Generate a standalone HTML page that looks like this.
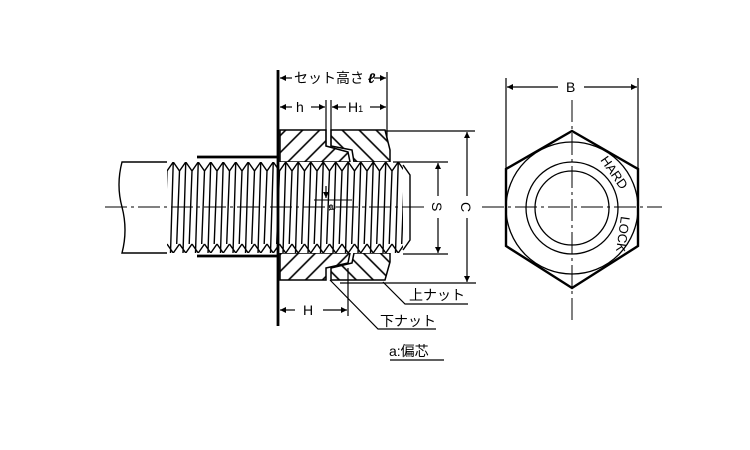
<!DOCTYPE html>
<html><head><meta charset="utf-8"><style>
html,body{margin:0;padding:0;background:#fff}
svg{display:block}
text{font-family:"Liberation Sans","Noto Sans CJK JP",sans-serif;fill:#000}
</style></head><body>
<svg width="750" height="450" viewBox="0 0 750 450" xmlns="http://www.w3.org/2000/svg">
<defs>
<pattern id="hA" patternUnits="userSpaceOnUse" width="12" height="12" patternTransform="rotate(45)">
<line x1="6" y1="-1" x2="6" y2="13" stroke="#000" stroke-width="1.6"/></pattern>
<pattern id="hB" patternUnits="userSpaceOnUse" width="12" height="12" patternTransform="rotate(-45)">
<line x1="6" y1="-1" x2="6" y2="13" stroke="#000" stroke-width="1.6"/></pattern>
<pattern id="th" patternUnits="userSpaceOnUse" x="167" y="162" width="12.5" height="91">
<path d="M0,9 L6.25,0 L12.5,9 M0,82 L6.25,91 L12.5,82 M6.25,0 L3.5,91 M12.5,9 L9.7,82 M0,9 L-2.8,82" stroke="#000" stroke-width="1.4" fill="none"/>
</pattern>
<marker id="ar" viewBox="0 0 10 10" refX="10" refY="5" markerWidth="9" markerHeight="6" orient="auto-start-reverse" markerUnits="userSpaceOnUse"><path d="M0,0 L10,5 L0,10z" fill="#000"/></marker>
</defs>
<g stroke="#000" fill="none">
<path d="M280,130 L326,130 L326,146 L348,152 L350,162 L280,162Z" fill="url(#hA)" stroke-width="1.5"/>
<path d="M331,130 L385,130 L390,150 L390,162 L354,162 L352,150 L331,146Z" fill="url(#hB)" stroke-width="1.5"/>
<path d="M280,253 L350,253 L348,263 L326,268 L326,280 L280,280Z" fill="url(#hA)" stroke-width="1.5"/>
<path d="M354,253 L390,253 L390,262 L385,280 L331,280 L331,268 L352,263Z" fill="url(#hB)" stroke-width="1.5"/>
<rect x="167" y="162" width="236" height="91" fill="#fff" stroke="none"/>
<rect x="167" y="162" width="236" height="91" fill="url(#th)" stroke="none"/>
<path d="M403,165 L410,175 L410,240 L403,250" stroke-width="1.4"/>
<path d="M167,162 L122,162 Q116,185 122,207 Q128,230 122,253 L167,253" stroke-width="1.4"/>
<line x1="197" y1="157" x2="278" y2="157" stroke-width="2.8"/>
<line x1="197" y1="256" x2="278" y2="256" stroke-width="2.8"/>
<line x1="278" y1="70" x2="278" y2="326" stroke-width="2.8"/>
<line x1="105" y1="207" x2="425" y2="207" stroke-width="1" stroke-dasharray="22,4,3,4"/>
<line x1="482" y1="207" x2="662" y2="207" stroke-width="1" stroke-dasharray="22,4,3,4"/>
<line x1="572" y1="100" x2="572" y2="320" stroke-width="1" stroke-dasharray="22,4,3,4"/>
<line x1="314" y1="200" x2="352" y2="200" stroke-width="1"/>
<line x1="326" y1="186" x2="326" y2="198" stroke-width="1.2" marker-end="url(#ar)"/>
<line x1="326" y1="100" x2="326" y2="146" stroke-width="1.2"/>
<line x1="331" y1="100" x2="331" y2="146" stroke-width="1.2"/>
<line x1="348" y1="268" x2="348" y2="316" stroke-width="1.2"/>
<line x1="387" y1="72" x2="387" y2="140" stroke-width="1.2"/>
<line x1="280" y1="78" x2="292" y2="78" stroke-width="1.2" marker-start="url(#ar)"/>
<line x1="374" y1="78" x2="386" y2="78" stroke-width="1.2" marker-end="url(#ar)"/>
<line x1="280" y1="107" x2="292" y2="107" stroke-width="1.2" marker-start="url(#ar)"/>
<line x1="311" y1="107" x2="325" y2="107" stroke-width="1.2" marker-end="url(#ar)"/>
<line x1="332" y1="107" x2="346" y2="107" stroke-width="1.2" marker-start="url(#ar)"/>
<line x1="370" y1="107" x2="386" y2="107" stroke-width="1.2" marker-end="url(#ar)"/>
<line x1="393" y1="162" x2="448" y2="162" stroke-width="1.2"/>
<line x1="403" y1="254" x2="448" y2="254" stroke-width="1.2"/>
<line x1="385" y1="131" x2="475" y2="131" stroke-width="1.2"/>
<line x1="340" y1="283" x2="476" y2="283" stroke-width="1.2"/>
<line x1="438" y1="163" x2="438" y2="196" stroke-width="1.2" marker-start="url(#ar)"/>
<line x1="438" y1="218" x2="438" y2="253" stroke-width="1.2" marker-end="url(#ar)"/>
<line x1="467" y1="132" x2="467" y2="196" stroke-width="1.2" marker-start="url(#ar)"/>
<line x1="467" y1="218" x2="467" y2="282" stroke-width="1.2" marker-end="url(#ar)"/>
<line x1="280" y1="310" x2="295" y2="310" stroke-width="1.2" marker-start="url(#ar)"/>
<line x1="323" y1="310" x2="347" y2="310" stroke-width="1.2" marker-end="url(#ar)"/>
<path d="M383,282 L405,304 L468,304" stroke-width="1.2"/>
<path d="M330,280 L378,329 L436,329" stroke-width="1.2"/>
<line x1="390" y1="360" x2="444" y2="360" stroke-width="1.2"/>
<path d="M572,131 L638,169 L638,246 L572,288 L506,246 L506,169Z" stroke-width="2.4" fill="none"/>
<circle cx="572" cy="208" r="66" stroke-width="1.3"/>
<circle cx="572" cy="208" r="46" stroke-width="1.3"/>
<circle cx="572" cy="208" r="37" stroke-width="1.3"/>
<line x1="506" y1="78" x2="506" y2="168" stroke-width="1.2"/>
<line x1="638" y1="78" x2="638" y2="168" stroke-width="1.2"/>
<line x1="507" y1="87" x2="558" y2="87" stroke-width="1.2" marker-start="url(#ar)"/>
<line x1="584" y1="87" x2="637" y2="87" stroke-width="1.2" marker-end="url(#ar)"/>
</g>
<g>
<text x="294" y="83" font-size="14">セット高さ <tspan font-style="italic" font-weight="bold">ℓ</tspan></text>
<text x="296" y="112" font-size="14">h</text>
<text x="348" y="112" font-size="14">H<tspan font-size="9">1</tspan></text>
<text x="303" y="315" font-size="14">H</text>
<text x="566" y="92" font-size="14">B</text>
<text x="0" y="0" font-size="14" transform="translate(432,202) rotate(90)">S</text>
<text x="0" y="0" font-size="14" transform="translate(461,202) rotate(90)">C</text>
<text x="0" y="0" font-size="12" transform="translate(329,204) rotate(90)">a</text>
<text x="0" y="0" font-size="13" transform="translate(600,160) rotate(55)">HARD</text>
<text x="0" y="0" font-size="13" transform="translate(621,216) rotate(98)">LOCK</text>
<text x="409" y="300" font-size="14">上ナット</text>
<text x="380" y="326" font-size="14">下ナット</text>
<text x="389" y="356" font-size="14">a:偏芯</text>
</g>
</svg>
</body></html>
